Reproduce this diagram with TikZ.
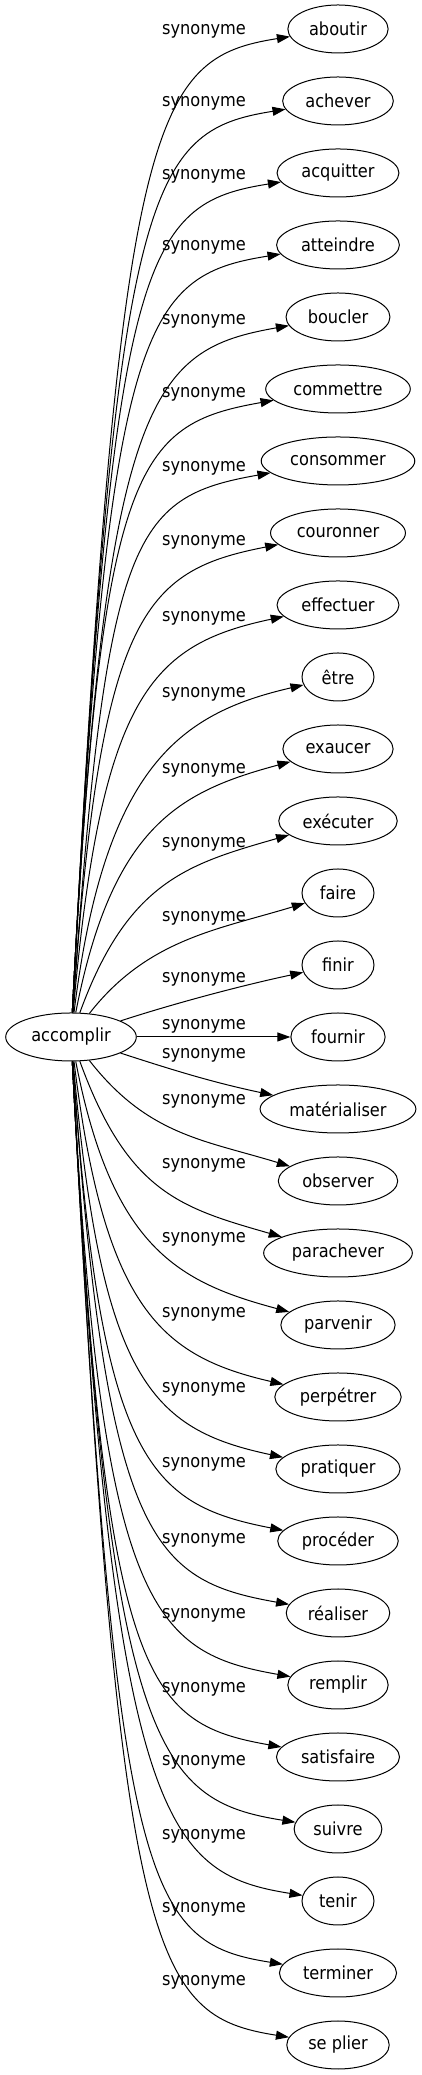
\documentclass[tikz,border=0pt]{standalone}
\usepackage{fontspec}
\IfFontExistsTF{DejaVu Sans Condensed}{\setmainfont{DejaVu Sans Condensed}}{\setmainfont{DejaVu Sans}[FakeStretch=0.9]}
\usetikzlibrary{arrows.meta,shapes.geometric}
\tikzset{
  word/.style={draw, ellipse, minimum width=72pt, minimum height=48pt, inner xsep=6.5pt, inner ysep=2pt},
  syn/.style={-{Triangle[length=13pt,width=9pt]}},
  rel/.style={inner sep=0pt},
}

\begin{document}
\begin{tikzpicture}[x=1pt,y=1pt,line width=1pt]%,font=\fontsize{18}{22}\selectfont]
  \useasboundingbox (0,0) rectangle (421,2075);
  \fontsize{18}{22}\selectfont
  \node[word] (acc) at (71,1038) {accomplir};
  \foreach \w [count=\i from 0] in {aboutir,achever,acquitter,atteindre,boucler,commettre,consommer,couronner,effectuer,être,exaucer,exécuter,faire,finir,fournir,matérialiser,observer,parachever,parvenir,perpétrer,pratiquer,procéder,réaliser,remplir,satisfaire,suivre,tenir,terminer,se plier}
    \node[word] (t\i) at (338,{2046-72*\i}) {\w};
  % labels, top to bottom
  \foreach \i/\ly in {0/31,1/103,2/176,3/247,4/321,5/394,6/468,7/542,8/618,9/694,10/770,11/844,12/918,13/979,14/1026,15/1055,16/1101,17/1165,18/1239,19/1314,20/1389,21/1464,22/1540,23/1615,24/1689,25/1762,26/1836,27/1909,28/1982}
    \node[rel] (l\i) at (204,{2075-\ly}) {synonyme};
  % edges come in mirrored pairs
  \foreach \i/\a/\da/\b/\db in {0/87/900/189/140,1/87/830/189/140,2/87/760/189/140,3/87/690/189/140,4/87/620/190/140,5/87/550/190/140,6/86/480/190/140,7/86/400/191/138,8/85/320/192/135,9/83/250/193/125,10/79/190/195/115,11/70/140/196/105,12/52/95/197/90,13/18/60/192/60}{
    \pgfmathtruncatemacro\j{28-\i}
    \draw[syn] (acc) to[out=\a,in=\b,out distance=\da pt,in distance=\db pt] (t\i);
    \draw[syn] (acc) to[out=-\a,in=-\b,out distance=\da pt,in distance=\db pt] (t\j);
  }
  \draw[syn] (acc) -- (t14);
\end{tikzpicture}
\end{document}
